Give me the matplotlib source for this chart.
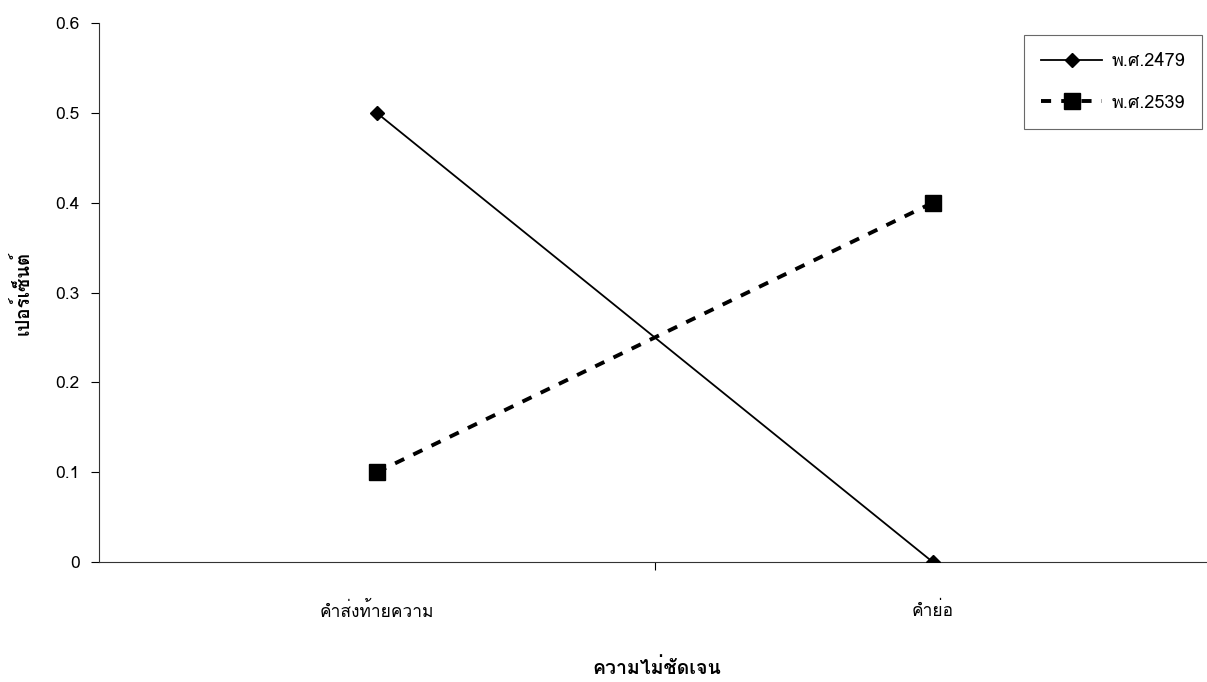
import matplotlib
matplotlib.use("Agg")
import matplotlib.pyplot as plt
from matplotlib import font_manager
from matplotlib.ft2font import FT2Font

categories = ["คำส่งท้ายความ", "คำย่อ"]
series_names = ["พ.ศ.2479", "พ.ศ.2539"]
values_2479 = [0.5, 0.0]
values_2539 = [0.1, 0.4]
y_ticks = [0, 0.1, 0.2, 0.3, 0.4, 0.5, 0.6]
x_title = "ความไม่ชัดเจน"
y_title = "เปอร์เซ็นต์"


# find a font that has Thai glyphs
def find_thai_font():
    names = []
    for f in font_manager.fontManager.ttflist:
        try:
            ft = FT2Font(f.fname)
            if ft.get_char_index(ord("ก")) != 0:
                names.append(f.name)
        except Exception:
            pass
    return names


thai = find_thai_font()
families = (thai[:1] if thai else []) + ["Liberation Sans", "DejaVu Sans"]
plt.rcParams["font.family"] = families

fig = plt.figure(figsize=(12.07, 6.82), dpi=100)
ax = fig.add_axes([0.082, 0.176, 0.921, 0.790])

x = list(range(len(categories)))
ax.plot(x, values_2479, color="black", lw=1.3, marker="D", ms=7.5,
        label=series_names[0], zorder=3)
ax.plot(x, values_2539, color="black", lw=2.8, ls=(0, (2.6, 2.6)), marker="s",
        ms=11, label=series_names[1], zorder=3)

ax.set_xlim(-0.5, 1.5)
ax.set_ylim(0, 0.6)
ax.set_yticks(y_ticks)
ax.set_yticklabels(["0" if v == 0 else "%.1f" % v for v in y_ticks])
ax.set_xticks(x)
ax.set_xticklabels(categories)
ax.set_xticks([0.5], minor=True)
ax.tick_params(axis="x", which="major", length=0, pad=29, labelsize=12.5)
ax.tick_params(axis="x", which="minor", length=6, width=0.8, direction="out")
ax.tick_params(axis="y", length=6, width=0.8, labelsize=12.5, pad=8)

for s in ["top", "right"]:
    ax.spines[s].set_visible(False)
for s in ["left", "bottom"]:
    ax.spines[s].set_linewidth(0.8)
    ax.spines[s].set_color("#333333")

ax.set_ylabel(y_title, fontsize=13.5, fontweight="bold", labelpad=16)
fig.text(657 / 1207, 1 - 668 / 682, x_title, fontsize=14, fontweight="bold",
         ha="center", va="center")

leg = fig.legend(loc="upper right", bbox_to_anchor=(1202 / 1207, 1 - 35 / 682),
                 fontsize=13, frameon=True, fancybox=False, edgecolor="#444444",
                 handlelength=3.4, borderpad=0.95, labelspacing=1.3,
                 borderaxespad=0, handletextpad=0.5)
leg.get_frame().set_linewidth(0.8)

fig.savefig("out.png", dpi=100)
